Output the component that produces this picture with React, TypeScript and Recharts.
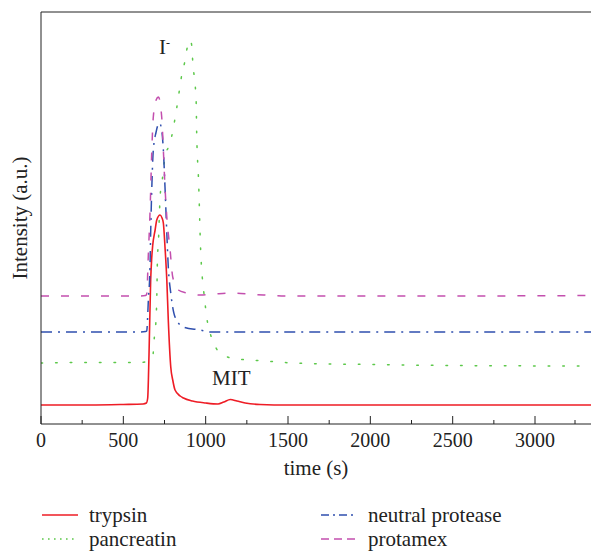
import { Line, LineChart, ReferenceLine, XAxis, YAxis } from "recharts"

// elution time (s) and intensity (a.u.)
const trypsinTime = [0, 300, 500, 620, 640, 648, 656, 666, 672, 678, 693, 703, 723, 735, 743, 753, 764, 773, 788, 800, 814, 845, 865, 920, 1000, 1075, 1110, 1150, 1190, 1240, 1330, 1500, 2000, 2500, 3340]
const trypsinValue = [19, 19, 19.5, 20, 21, 26, 70, 144, 165, 178, 194, 204, 209, 206, 201, 177, 144, 104, 57, 44, 34, 28, 26, 23, 21, 20, 22, 24.5, 23, 21, 19.5, 19, 19, 19, 19]

const pancreatinTime = [0, 300, 603, 650, 679, 688, 699, 703, 707, 713, 719, 723, 735, 753, 784, 804, 820, 832, 844, 858, 873, 885, 897, 905, 915, 922, 934, 942, 946, 950, 956, 960, 966, 970, 976, 986, 996, 1007, 1027, 1063, 1106, 1189, 1270, 1361, 1531, 2000, 2500, 3340]
const pancreatinValue = [61, 61.5, 61.5, 63, 68, 86, 106, 125, 164, 182, 209, 227, 242, 267, 281, 296, 312, 324, 338, 352, 362, 374, 382, 384, 379, 361, 342, 324, 286, 267, 247, 227, 191, 172, 154, 136, 121, 106, 91, 76, 69, 65, 64, 63, 61, 59.5, 58.5, 58]

const neutralTime = [0, 300, 600, 635, 642, 652, 662, 666, 673, 682, 699, 719, 733, 743, 753, 764, 773, 788, 814, 865, 966, 1027, 1500, 2500, 3340]
const neutralValue = [92, 92, 92, 92.5, 93, 124, 157, 191, 237, 274, 292, 301, 294, 274, 237, 191, 157, 131, 107, 97, 94, 92, 92, 92, 92]

const protamexTime = [0, 300, 600, 635, 642, 652, 662, 673, 682, 699, 713, 733, 743, 753, 764, 784, 800, 834, 885, 966, 1050, 1150, 1300, 1500, 2500, 3340]
const protamexValue = [128, 128, 128, 128.5, 130, 170, 211, 274, 307, 324, 327, 307, 274, 237, 207, 174, 147, 134, 131, 129, 130, 131, 129.5, 128, 128, 128.5]

const timeTicks = [0, 250, 500, 750, 1000, 1250, 1500, 1750, 2000, 2250, 2500, 2750, 3000, 3250]

const toPoints = (times: number[], values: number[]) => times.map((t, i) => ({ t, v: values[i] }))

const series = [
  { name: "trypsin", data: toPoints(trypsinTime, trypsinValue), color: "#ee1c25", dash: undefined, legendDash: undefined },
  { name: "pancreatin", data: toPoints(pancreatinTime, pancreatinValue), color: "#5cc84a", dash: "1.6 13", legendDash: "1.6 4.4" },
  { name: "neutral protease", data: toPoints(neutralTime, neutralValue), color: "#2f4fae", dash: "11 6 2 6", legendDash: "8 4 2 4" },
  { name: "protamex", data: toPoints(protamexTime, protamexValue), color: "#c34fae", dash: "8 12", legendDash: "8 5" },
]

const font = "Liberation Serif, Times New Roman, DejaVu Serif, serif"

function TimeTick({ x, y, payload }: any) {
  const major = payload.value % 500 === 0
  return (
    <g>
      <line x1={x} x2={x} y1={y} y2={y - (major ? 8 : 4)} stroke="#222" />
      {major && (
        <text x={x} y={y + 23} textAnchor="middle" style={{ fontFamily: font, fontSize: 20 }} fill="#222">
          {payload.value}
        </text>
      )}
    </g>
  )
}

function YTitle({ viewBox }: any) {
  const cy = viewBox.y + viewBox.height / 2
  return (
    <text x={27} y={cy} transform={`rotate(-90 27 ${cy})`} textAnchor="middle" style={{ fontFamily: font, fontSize: 21 }} fill="#222">
      Intensity (a.u.)
    </text>
  )
}

function XTitle({ viewBox }: any) {
  return (
    <text x={viewBox.x + viewBox.width / 2} y={viewBox.y + 51} textAnchor="middle" style={{ fontFamily: font, fontSize: 21 }} fill="#222">
      time (s)
    </text>
  )
}

function LegendItem({ s, left, top }: { s: (typeof series)[number]; left: number; top: number }) {
  return (
    <div style={{ position: "absolute", left, top, display: "flex", alignItems: "center", whiteSpace: "nowrap" }}>
      <svg width={36} height={10} style={{ marginRight: 11 }}>
        <line x1={0} x2={36} y1={5} y2={5} stroke={s.color} strokeWidth={1.5} strokeDasharray={s.legendDash} />
      </svg>
      <span style={{ fontFamily: font, fontSize: 21, color: "#222", lineHeight: "24px" }}>{s.name}</span>
    </div>
  )
}

export default function App() {
  return (
    <div style={{ position: "relative", width: 591, height: 551, background: "#fff", overflow: "hidden" }}>
      <style>{"body{margin:0}"}</style>
      <LineChart width={591} height={500} margin={{ top: 12, right: 0, left: 0, bottom: 16 }}>
        <XAxis
          type="number"
          dataKey="t"
          domain={[0, 3340]}
          ticks={timeTicks}
          allowDataOverflow
          tickLine={false}
          tickSize={0}
          tickMargin={0}
          tick={<TimeTick />}
          axisLine={{ stroke: "#222" }}
          height={60}
          label={<XTitle />}
        />
        <YAxis type="number" domain={[0, 412]} tick={false} tickLine={false} axisLine={{ stroke: "#222" }} width={41} label={<YTitle />} />
        <ReferenceLine y={412} stroke="#222" />
        {series.map((s) => (
          <Line
            key={s.name}
            data={s.data}
            dataKey="v"
            type="monotone"
            stroke={s.color}
            strokeWidth={s.name === "trypsin" ? 1.6 : 1.5}
            strokeDasharray={s.dash}
            strokeLinecap={s.name === "pancreatin" ? "round" : "butt"}
            dot={false}
            isAnimationActive={false}
          />
        ))}
      </LineChart>
      <div style={{ position: "absolute", left: 159, top: 35, fontFamily: font, fontSize: 21, color: "#222" }}>
        I<sup style={{ fontSize: 12, verticalAlign: "7px" }}>-</sup>
      </div>
      <div style={{ position: "absolute", left: 212, top: 366, fontFamily: font, fontSize: 21, color: "#222" }}>MIT</div>
      <LegendItem s={series[0]} left={42} top={503} />
      <LegendItem s={series[1]} left={42} top={527} />
      <LegendItem s={series[2]} left={321} top={503} />
      <LegendItem s={series[3]} left={321} top={527} />
    </div>
  )
}
